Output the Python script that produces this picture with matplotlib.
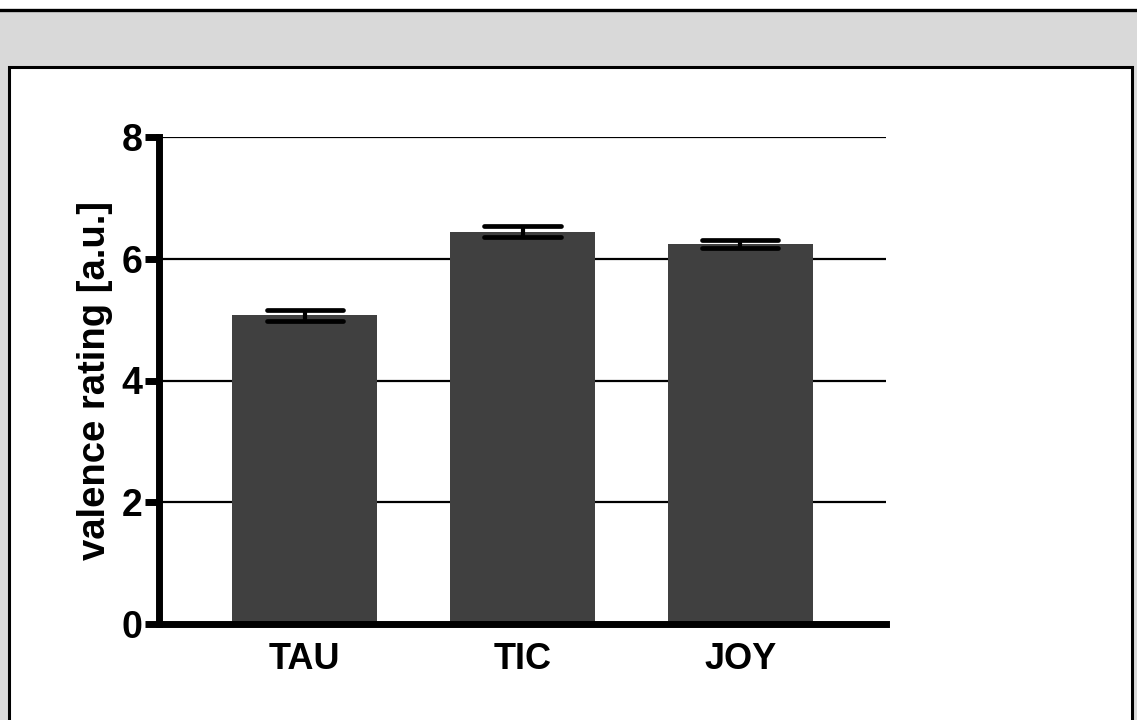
import matplotlib
matplotlib.use("Agg")
import matplotlib.pyplot as plt
from matplotlib.patches import Rectangle
from matplotlib.lines import Line2D
import numpy as np

categories = ["TAU", "TIC", "JOY"]
means = [5.07, 6.44, 6.24]
sems = [0.09, 0.09, 0.065]
yticks = [0, 2, 4, 6, 8]
ylabel = "valence rating [a.u.]"

W, H, DPI = 1137, 720, 100
plt.rcParams["font.family"] = ["Liberation Sans", "DejaVu Sans"]
plt.rcParams["font.weight"] = "bold"

fig = plt.figure(figsize=(W / DPI, H / DPI), dpi=DPI, facecolor="white")


def px(x0, y0, x1, y1):
    """Pixel box (from top-left) to figure fraction rectangle args."""
    return (x0 / W, 1 - y1 / H), (x1 - x0) / W, (y1 - y0) / H


# grey surround with a black rule on top
xy, w, h = px(0, 10, W, H + 5)
fig.patches.append(Rectangle(xy, w, h, transform=fig.transFigure,
                             facecolor="#d9d9d9", edgecolor="none", zorder=0))
fig.lines.append(Line2D([0, 1], [1 - 9.5 / H, 1 - 9.5 / H], transform=fig.transFigure,
                        color="black", linewidth=2.4, zorder=1))
# white panel with black frame
xy, w, h = px(9, 67, 1132, H + 20)
fig.patches.append(Rectangle(xy, w, h, transform=fig.transFigure,
                             facecolor="white", edgecolor="black", linewidth=2.2, zorder=1))

ax = fig.add_axes([159 / W, 96 / H, (886 - 159) / W, (624 - 137) / H])
ax.set_facecolor("none")
ax.set_zorder(2)

x = np.arange(len(categories))
ax.set_xlim(-0.67, len(categories) - 1 + 0.67)
ax.set_ylim(0, 8)

for yv in yticks[1:]:
    ax.axhline(yv, color="black", linewidth=1.6, zorder=1)

ax.bar(x, means, width=0.667, color="#404040", zorder=2)

lo = np.array(means) - np.array(sems)
hi = np.array(means) + np.array(sems)
ax.vlines(x, lo, hi, color="black", linewidth=3, zorder=3)
cap = 0.175
for arr in (lo, hi):
    lc = ax.hlines(arr, x - cap, x + cap, color="black", linewidth=3.4, zorder=3)
    lc.set_capstyle("round")

for s in ("top", "right"):
    ax.spines[s].set_visible(False)
for s in ("left", "bottom"):
    ax.spines[s].set_linewidth(5)
    ax.spines[s].set_capstyle("projecting")

ax.set_yticks(yticks)
ax.set_yticklabels([str(v) for v in yticks], fontsize=27, fontweight="bold")
ax.tick_params(axis="y", length=10, width=5, pad=2)
ax.set_xticks(x)
ax.set_xticklabels(categories, fontsize=26, fontweight="bold")
ax.tick_params(axis="x", length=0, pad=13)
ax.set_ylabel(ylabel, fontsize=27.5, fontweight="bold", labelpad=6)

fig.savefig("out.png", dpi=DPI, facecolor="white")
